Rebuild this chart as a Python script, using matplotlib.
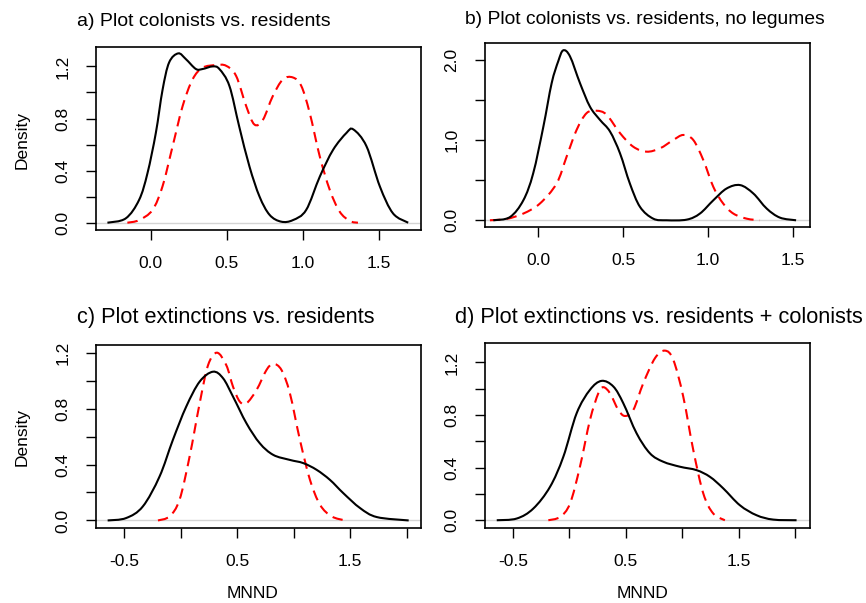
import matplotlib
matplotlib.use('Agg')
import matplotlib.pyplot as plt
from matplotlib.path import Path
from matplotlib.patches import PathPatch

plt.rcParams['font.family'] = ['Liberation Sans', 'DejaVu Sans']

# values (density curves, x = MNND)
a_black_x = [-0.285, -0.165, -0.077, -0.022, 0.033, 0.077, 0.12, 0.18, 0.23, 0.296, 0.34, 0.406, 0.45,
             0.516, 0.58, 0.648, 0.714, 0.78, 0.856, 0.933, 1.02, 1.11, 1.197, 1.285, 1.33, 1.416,
             1.504, 1.59, 1.69]
a_black_y = [0.0, 0.033, 0.175, 0.38, 0.69, 1.02, 1.23, 1.30, 1.256, 1.18, 1.18, 1.20, 1.18,
             1.05, 0.74, 0.43, 0.20, 0.06, 0.008, 0.02, 0.098, 0.355, 0.56, 0.69, 0.716, 0.587,
             0.278, 0.072, 0.0]
a_red_x = [-0.154, -0.077, 0.011, 0.077, 0.143, 0.209, 0.274, 0.34, 0.428, 0.494, 0.56, 0.626, 0.68,
           0.736, 0.80, 0.867, 0.933, 0.988, 1.043, 1.109, 1.175, 1.24, 1.307, 1.36]
a_red_y = [0.0, 0.02, 0.098, 0.28, 0.587, 0.896, 1.10, 1.19, 1.21, 1.205, 1.127, 0.896, 0.754,
           0.79, 0.97, 1.10, 1.115, 1.05, 0.844, 0.51, 0.252, 0.085, 0.013, 0.0]

b_black_x = [-0.265, -0.167, -0.088, -0.03, 0.03, 0.079, 0.118, 0.147, 0.187, 0.246, 0.305, 0.364,
             0.423, 0.482, 0.54, 0.6, 0.678, 0.757, 0.875, 0.953, 1.032, 1.11, 1.19, 1.268, 1.347,
             1.425, 1.52]
b_black_y = [0.0, 0.04, 0.25, 0.586, 1.17, 1.715, 1.99, 2.125, 2.05, 1.715, 1.42, 1.255,
             1.11, 0.837, 0.46, 0.167, 0.02, 0.0, 0.008, 0.084, 0.25, 0.397, 0.44, 0.335, 0.146,
             0.033, 0.0]
b_red_x = [-0.285, -0.187, -0.088, 0.01, 0.108, 0.167, 0.226, 0.285, 0.344, 0.403, 0.482, 0.56, 0.639,
           0.718, 0.796, 0.855, 0.914, 0.973, 1.032, 1.09, 1.15, 1.229, 1.307]
b_red_y = [0.0, 0.017, 0.084, 0.21, 0.46, 0.795, 1.13, 1.34, 1.37, 1.32, 1.09, 0.92, 0.858,
           0.9, 1.004, 1.067, 1.004, 0.753, 0.418, 0.21, 0.084, 0.02, 0.0]

c_black_x = [-0.645, -0.482, -0.334, -0.186, -0.068, 0.05, 0.169, 0.287, 0.376, 0.464, 0.583, 0.701,
             0.82, 0.967, 1.086, 1.204, 1.322, 1.44, 1.589, 1.737, 2.018]
c_black_y = [0.0, 0.017, 0.1, 0.314, 0.576, 0.814, 0.993, 1.064, 1.017, 0.886, 0.695, 0.552,
             0.469, 0.433, 0.41, 0.362, 0.29, 0.195, 0.088, 0.024, 0.0]
c_red_x = [-0.2, -0.098, -0.009, 0.08, 0.169, 0.243, 0.322, 0.405, 0.464, 0.524, 0.583, 0.672, 0.76,
           0.82, 0.893, 0.967, 1.056, 1.145, 1.234, 1.337, 1.456]
c_red_y = [0.0, 0.029, 0.148, 0.457, 0.838, 1.11, 1.2, 1.11, 0.957, 0.85, 0.838, 0.933, 1.076,
           1.12, 1.076, 0.91, 0.576, 0.29, 0.112, 0.029, 0.0]

d_black_x = [-0.643, -0.466, -0.319, -0.171, -0.053, 0.065, 0.183, 0.286, 0.39, 0.478, 0.596, 0.714,
             0.832, 0.98, 1.127, 1.246, 1.364, 1.511, 1.659, 1.806, 2.013]
d_black_y = [0.0, 0.013, 0.089, 0.254, 0.483, 0.814, 0.992, 1.06, 1.017, 0.89, 0.661, 0.509,
             0.445, 0.407, 0.381, 0.33, 0.242, 0.114, 0.038, 0.005, 0.0]
d_red_x = [-0.186, -0.083, 0.006, 0.094, 0.183, 0.257, 0.301, 0.36, 0.434, 0.493, 0.567, 0.655, 0.759,
           0.847, 0.921, 1.009, 1.098, 1.187, 1.275, 1.378]
d_red_y = [0.0, 0.025, 0.127, 0.407, 0.763, 0.966, 1.012, 0.966, 0.839, 0.793, 0.839, 1.042, 1.233,
           1.29, 1.22, 0.941, 0.534, 0.203, 0.051, 0.0]

titles = ['a) Plot colonists vs. residents',
          'b) Plot colonists vs. residents, no legumes',
          'c) Plot extinctions vs. residents',
          'd) Plot extinctions vs. residents + colonists']

W, H = 866, 603
fig = plt.figure(figsize=(W / 100, H / 100), dpi=100)


def box(l, t, r, b):
    return fig.add_axes([l / W, 1 - b / H, (r - l) / W, (b - t) / H])


def smooth_path(xs, ys):
    # catmull-rom through the read points, drawn as cubic bezier segments
    pts = list(zip(xs, ys))
    n = len(pts)
    verts = [pts[0]]
    codes = [Path.MOVETO]
    for i in range(n - 1):
        p0 = pts[max(i - 1, 0)]
        p1 = pts[i]
        p2 = pts[i + 1]
        p3 = pts[min(i + 2, n - 1)]
        c1 = (p1[0] + (p2[0] - p0[0]) / 6, p1[1] + (p2[1] - p0[1]) / 6)
        c2 = (p2[0] - (p3[0] - p1[0]) / 6, p2[1] - (p3[1] - p1[1]) / 6)
        verts += [c1, c2, p2]
        codes += [Path.CURVE4] * 3
    return Path(verts, codes)


def panel(ax, bx, by, rx, ry, xlim, ylim, xt, xl, yt, yl):
    ax.axhline(0, color='#d4d4d4', lw=1.0, zorder=1)
    ax.add_patch(PathPatch(smooth_path(bx, by), fill=False, edgecolor='black', lw=1.5, zorder=3))
    ax.add_patch(PathPatch(smooth_path(rx, ry), fill=False, edgecolor='red', lw=1.5,
                           linestyle=(0, (5, 3)), zorder=2))
    ax.set_xlim(*xlim)
    ax.set_ylim(*ylim)
    ax.set_xticks(xt, xl)
    ax.set_yticks(yt, yl)
    ax.tick_params(axis='both', direction='out', length=7.5, width=1.0, labelsize=12.5, pad=11)
    ax.tick_params(axis='y', labelrotation=90)
    for lab in ax.get_yticklabels():
        lab.set_va('center')
    for s in ax.spines.values():
        s.set_linewidth(1.2)


ax_a = box(96, 47, 421, 230)
panel(ax_a, a_black_x, a_black_y, a_red_x, a_red_y, (-0.360, 1.774), (-0.056, 1.349),
      [0, 0.5, 1.0, 1.5], ['0.0', '0.5', '1.0', '1.5'],
      [0, 0.2, 0.4, 0.6, 0.8, 1.0, 1.2], ['0.0', '', '0.4', '', '0.8', '', '1.2'])

ax_b = box(485, 43, 810, 227)
panel(ax_b, b_black_x, b_black_y, b_red_x, b_red_y, (-0.314, 1.602), (-0.084, 2.217),
      [0, 0.5, 1.0, 1.5], ['0.0', '0.5', '1.0', '1.5'],
      [0, 0.5, 1.0, 1.5, 2.0], ['0.0', '', '1.0', '', '2.0'])

ax_c = box(96, 345, 421, 528)
panel(ax_c, c_black_x, c_black_y, c_red_x, c_red_y, (-0.748, 2.127), (-0.054, 1.255),
      [-0.5, 0, 0.5, 1.0, 1.5, 2.0], ['-0.5', '', '0.5', '', '1.5', ''],
      [0, 0.2, 0.4, 0.6, 0.8, 1.0, 1.2], ['0.0', '', '0.4', '', '0.8', '', '1.2'])

ax_d = box(485, 343, 810, 528)
panel(ax_d, d_black_x, d_black_y, d_red_x, d_red_y, (-0.747, 2.132), (-0.059, 1.348),
      [-0.5, 0, 0.5, 1.0, 1.5, 2.0], ['-0.5', '', '0.5', '', '1.5', ''],
      [0, 0.2, 0.4, 0.6, 0.8, 1.0, 1.2], ['0.0', '', '0.4', '', '0.8', '', '1.2'])

# panel titles sit left-aligned, not centred on the boxes
fig.text(77 / W, 1 - 21 / H, titles[0], fontsize=14, ha='left', va='center')
fig.text(465 / W, 1 - 20 / H, titles[1], fontsize=13.9, ha='left', va='center')
fig.text(77 / W, 1 - 318 / H, titles[2], fontsize=15.7, ha='left', va='center')
fig.text(455 / W, 1 - 317 / H, titles[3], fontsize=15.7, ha='left', va='center')

fig.text(22 / W, 1 - 140 / H, 'Density', fontsize=12.5, rotation=90, ha='center', va='center')
fig.text(22 / W, 1 - 437 / H, 'Density', fontsize=12.5, rotation=90, ha='center', va='center')
fig.text(253 / W, 1 - 593 / H, 'MNND', fontsize=12.5, ha='center', va='center')
fig.text(643 / W, 1 - 593 / H, 'MNND', fontsize=12.5, ha='center', va='center')

fig.savefig('out.png', dpi=100)
